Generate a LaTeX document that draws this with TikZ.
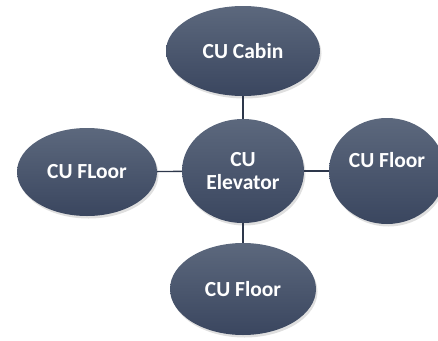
\documentclass[tikz,border=0pt]{standalone}
\usepackage{fontspec}
\setmainfont{Carlito}
\usetikzlibrary{shapes.geometric,shadows}
\definecolor{cutop}{RGB}{92,104,125}
\definecolor{cubot}{RGB}{58,70,95}
\definecolor{culine}{RGB}{45,55,75}
\tikzset{
  cunode/.style={ellipse, inner sep=0pt, top color=cutop, bottom color=cubot,
    draw=none, text=white, font=\fontsize{21.5}{22.5}\selectfont\bfseries, align=center,
    drop shadow={opacity=0.25, shadow xshift=1.5pt, shadow yshift=-2.5pt}},
  culink/.style={draw=culine, line width=1.4pt}
}
\begin{document}
\begin{tikzpicture}[x=1pt, y=-1pt]
        \useasboundingbox (0, 0) rectangle (438, 340);
        \node[cunode, minimum width=154pt, minimum height=90pt] (cabin) at (243, 51) {CU Cabin};
        \node[cunode, minimum width=122pt, minimum height=104pt] (elev) at (243, 171) {CU\\Elevator};
        \node[cunode, minimum width=140pt, minimum height=88pt] (floorw) at (87, 172) {CU FLoor};
        \node[cunode, minimum width=116pt, minimum height=106pt] (floore) at (387, 171) {CU Floor\\~};
        \node[cunode, minimum width=146pt, minimum height=92pt] (floors) at (243, 289) {CU Floor};
        \draw[culink] (cabin) -- (elev);
        \draw[culink] (elev) -- (floors);
        \draw[culink] (floorw) -- (elev);
        \draw[culink] (elev) -- (floore);
    \end{tikzpicture}
\end{document}
